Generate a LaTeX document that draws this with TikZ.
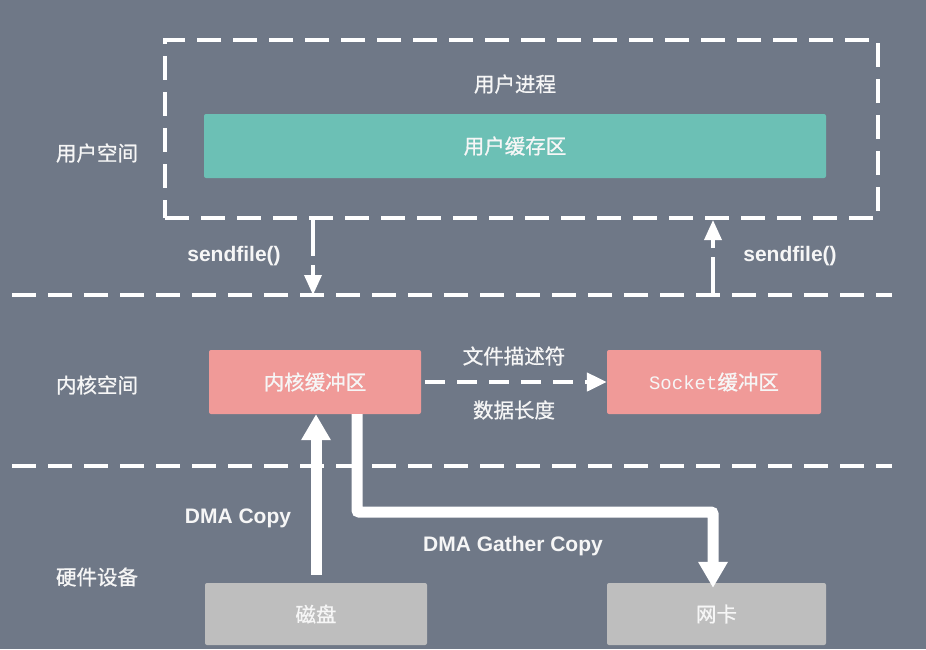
\documentclass[tikz,border=0pt]{standalone}
\usepackage{fontspec}
\setmainfont{Liberation Sans}
\newfontfamily\cjk{Noto Sans CJK SC}[FakeBold=0.9]
\newfontfamily\monofam{Liberation Mono}
\usetikzlibrary{arrows.meta}
\definecolor{bg}{RGB}{111,120,135}
\definecolor{tealbuf}{RGB}{108,192,181}
\definecolor{salmon}{RGB}{240,154,152}
\definecolor{hwgray}{RGB}{190,190,190}
\definecolor{txt}{RGB}{246,246,246}
\tikzset{
  zh/.style={font=\cjk\fontsize{20.5}{24}\selectfont, text=txt},
  en/.style={font=\bfseries\fontsize{21}{24}\selectfont, text=txt},
  box/.style={rounded corners=2pt, inner sep=0pt, zh},
  dashline/.style={draw=white, line width=4.5pt, dash pattern=on 24pt off 12pt},
  callarrow/.style={draw=white, line width=3.5pt, dash pattern=on 38pt off 9pt,
    -{Triangle[width=17pt,length=20pt]}},
  fdarrow/.style={draw=white, line width=4.5pt, dash pattern=on 20pt off 12pt,
    -{Triangle[width=18pt,length=20pt]}},
  dmaarrow/.style={draw=white, line width=11pt, rounded corners=2pt,
    -{Triangle[width=28pt,length=26pt]}},
}
\begin{document}
\begin{tikzpicture}[x=1pt,y=-1pt]
  \fill[bg] (0,0) rectangle (926,649);
  \useasboundingbox (0,0) rectangle (926,649);

  % layer separators
  \draw[dashline] (12,295) -- (892,295);
  \draw[dashline] (12,466) -- (892,466);

  % layer titles
  \node[zh] (lu) at (97,153) {用户空间};
  \node[zh] (lk) at (97,385) {内核空间};
  \node[zh] (lh) at (97,577) {硬件设备};

  % user process
  \node[draw=white, line width=4.5pt, dash pattern=on 24pt off 12pt,
        minimum width=713pt, minimum height=178pt, inner sep=0pt]
        (uproc) at (521.5,129) {};
  \node[zh] (uproct) at (515,84) {用户进程};
  \node[box, fill=tealbuf, minimum width=622pt, minimum height=64pt]
        (ubuf) at (515,146) {用户缓存区};

  % kernel buffers
  \node[box, fill=salmon, minimum width=212pt, minimum height=64pt]
        (kbuf) at (315,382) {内核缓冲区};
  \node[box, fill=salmon, minimum width=214pt, minimum height=64pt]
        (sbuf) at (714,382) {{\monofam\fontsize{19}{24}\selectfont Socket}缓冲区};

  % hardware
  \node[box, fill=hwgray, minimum width=222pt, minimum height=62pt]
        (disk) at (316,614) {磁盘};
  \node[box, fill=hwgray, minimum width=219pt, minimum height=62pt]
        (nic) at (716.5,614) {网卡};

  % sendfile() system calls
  \coordinate (c1a) at (313,218);
  \coordinate (c1b) at (313,295);
  \coordinate (c2a) at (713,295);
  \coordinate (c2b) at (713,220);
  \draw[callarrow] (c1a) -- (c1b);
  \draw[callarrow] (c2a) -- (c2b);
  \node[en] (sf1) at (234,256) {sendfile()};
  \node[en] (sf2) at (790,256) {sendfile()};

  % descriptor passed to the socket buffer
  \draw[fdarrow] (kbuf.east) ++(4,0) -- (sbuf.west);
  \node[zh] (fd) at (514,356) {文件描述符};
  \node[zh] (len) at (514,410) {数据长度};

  % DMA transfers
  \draw[dmaarrow] (disk.north -| 316,0) ++(0,-8) -- (kbuf.south -| 316,0);
  \node[en] (dc) at (238,518) {DMA Copy};
  \draw[dmaarrow] (kbuf.south -| 357,0) -- (357,512) -- (713,512) -- ([yshift=-5pt]nic.north -| 713,0);
  \node[en] (dgc) at (513,546) {DMA Gather Copy};
\end{tikzpicture}
\end{document}
